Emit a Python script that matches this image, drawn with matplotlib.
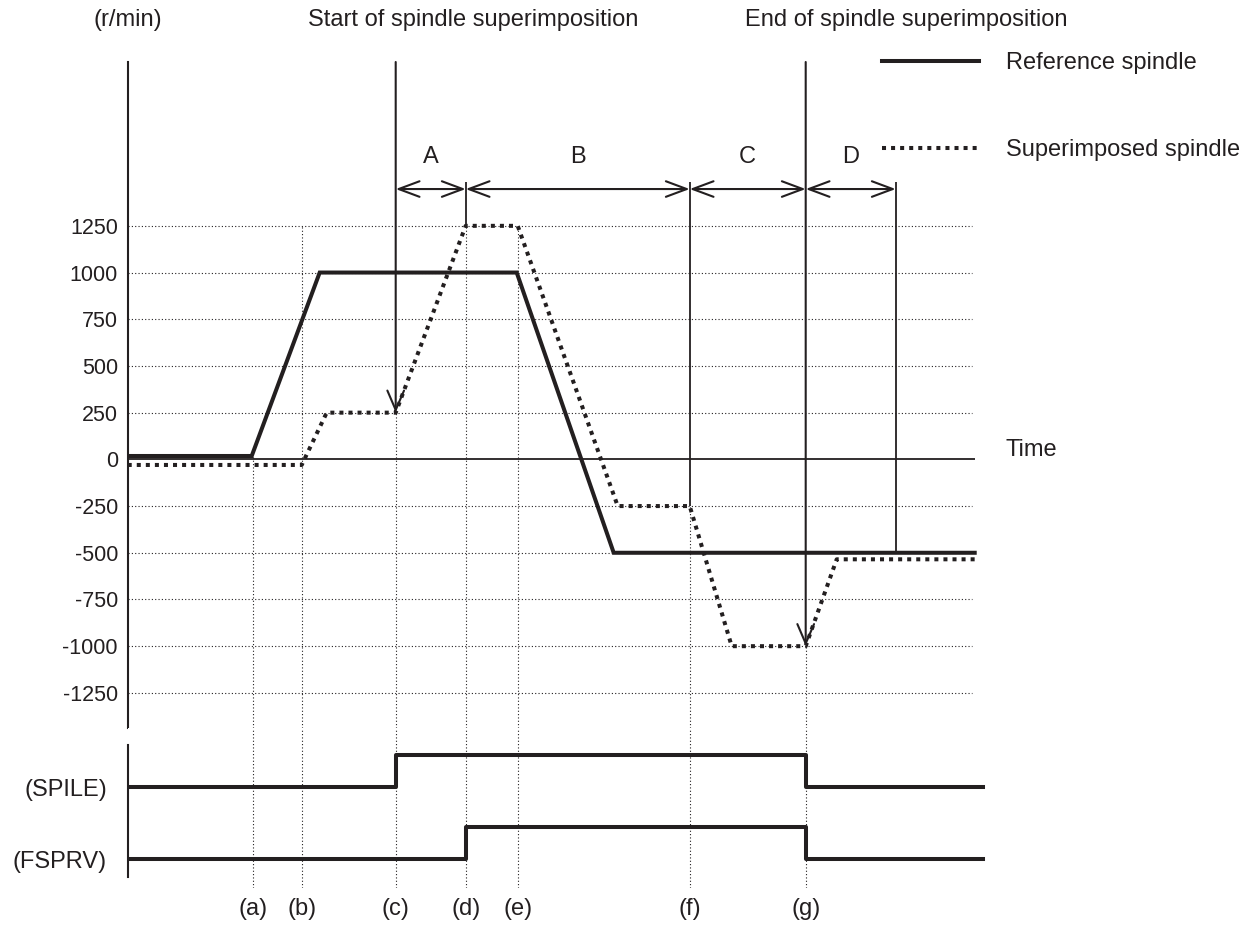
import matplotlib.pyplot as plt
import numpy as np

plt.rcParams['font.family'] = ['Liberation Sans', 'DejaVu Sans']
plt.rcParams['axes.unicode_minus'] = False

INK = '#231f20'
DOTS = (0, (1, 2))

# time marks (a)..(g), arbitrary time units
mark_labels = ['(a)', '(b)', '(c)', '(d)', '(e)', '(f)', '(g)']
mark_t = [12.5, 17.45, 26.8, 33.8, 39.0, 56.2, 67.8]
# speed where each dotted mark line starts (it runs down from there)
mark_dot_top = [18, 1250, 250, 1250, 1250, -250, -1000]
t_d_end = 76.8
t_end = 84.7
t_sig_end = 85.5

# reference spindle speed (r/min)
ref_t = [0, 12.4, 19.2, 38.9, 48.6, 84.7]
ref_v = [18, 18, 1000, 1000, -500, -500]

# superimposed spindle speed (r/min)
sup_t = [0, 17.4, 19.9, 26.8, 33.8, 39.0, 49.0, 56.2, 60.4, 67.8, 70.9, 84.7]
sup_v = [-30, -30, 250, 250, 1250, 1250, -250, -250, -1000, -1000, -535, -535]

speed_ticks = [1250, 1000, 750, 500, 250, 0, -250, -500, -750, -1000, -1250]

# signals (0 = off, 1 = on)
sig_t = [0, 26.8, 33.8, 67.8, 85.5]
spile = [0, 1, 1, 0, 0]
fsprv = [0, 0, 1, 0, 0]

# sections A-D
sec_labels = ['A', 'B', 'C', 'D']
sec_edges = [26.8, 33.8, 56.2, 67.8, 76.8]

W, H = 1250, 925
fig = plt.figure(figsize=(W / 100, H / 100), dpi=100)

# ---------------- speed chart ----------------
v_top, v_bot = 2127, -1438
ax = fig.add_axes([127.7 / W, 1 - 728 / H, 870 / W, 666 / H])
ax.set_xlim(0, 87)
ax.set_ylim(v_bot, v_top)
for s in ['top', 'right', 'bottom']:
    ax.spines[s].set_visible(False)
ax.spines['left'].set_linewidth(1.5)
ax.spines['left'].set_color(INK)
ax.set_xticks([])
ax.set_yticks(speed_ticks)
ax.tick_params(axis='y', length=0, pad=7, labelsize=15.5, colors=INK)

grid_v = [v for v in speed_ticks if v != 0]
ax.hlines(grid_v, 0, 84.4, colors=INK, linestyles=DOTS, lw=0.8)
ax.hlines(0, 0, t_end, colors=INK, lw=1.3)
ax.text(87.8, 50, 'Time', va='center', fontsize=17, color=INK)

# dotted time marks
ax.vlines(mark_t, v_bot, mark_dot_top, colors=INK, linestyles=DOTS, lw=0.8)

l_ref, = ax.plot(ref_t, ref_v, color=INK, lw=2.9, solid_joinstyle='miter',
                 label='Reference spindle')
l_sup, = ax.plot(sup_t, sup_v, color=INK, lw=2.9, ls=(0, (1, 1.25)),
                 label='Superimposed spindle')

# start / end of superimposition arrows
arr_down = dict(arrowstyle='->,head_length=0.7,head_width=0.3', lw=1.5, color=INK,
                shrinkA=0, shrinkB=0, mutation_scale=20)
ax.annotate('', xy=(mark_t[2], 250), xytext=(mark_t[2], v_top), arrowprops=arr_down)
ax.annotate('', xy=(mark_t[6], -1000), xytext=(mark_t[6], v_top), arrowprops=arr_down)

# section boundaries
y_arrow = 1447
y_bound = 1485
ax.vlines([mark_t[3], mark_t[5], t_d_end], y_bound, [1250, -250, -500], colors=INK, lw=1.3)

arr_both = dict(arrowstyle='<->,head_length=0.75,head_width=0.28', lw=1.5, color=INK,
                shrinkA=0, shrinkB=0, mutation_scale=20)
for i, lab in enumerate(sec_labels):
    t0, t1 = sec_edges[i], sec_edges[i + 1]
    ax.annotate('', xy=(t1, y_arrow), xytext=(t0, y_arrow), arrowprops=arr_both)
    ax.text((t0 + t1) / 2, 1619, lab, ha='center', va='center', fontsize=17, color=INK)

# ---------------- signals ----------------
axs = fig.add_axes([127.7 / W, 1 - 888 / H, 870 / W, 160 / H])
axs.set_xlim(0, 87)
axs.set_ylim(0, 1)
for s in ['top', 'right', 'bottom']:
    axs.spines[s].set_visible(False)
axs.spines['left'].set_linewidth(1.5)
axs.spines['left'].set_color(INK)
axs.spines['left'].set_bounds(0.069, 0.894)

spile_base, fsprv_base, step_h = 0.631, 0.181, 0.2
axs.set_yticks([spile_base, fsprv_base])
axs.set_yticklabels(['(SPILE)', '(FSPRV)'])
axs.set_xticks(mark_t)
axs.set_xticklabels(mark_labels)
axs.tick_params(axis='y', length=0, pad=15, labelsize=17, colors=INK)
axs.tick_params(axis='x', length=0, pad=7, labelsize=17, colors=INK)

axs.vlines(mark_t, 0, 1, colors=INK, linestyles=DOTS, lw=0.8)
axs.step(sig_t, spile_base + step_h * np.array(spile), where='post', color=INK, lw=2.9)
axs.step(sig_t, fsprv_base + step_h * np.array(fsprv), where='post', color=INK, lw=2.9)

# ---------------- headings / legend ----------------
fig.text(128 / W, 1 - 20 / H, '(r/min)', ha='center', va='center', fontsize=17, color=INK)
fig.text(473 / W, 1 - 20 / H, 'Start of spindle superimposition', ha='center', va='center',
         fontsize=17, color=INK)
fig.text(906 / W, 1 - 20 / H, 'End of spindle superimposition', ha='center', va='center',
         fontsize=17, color=INK)

fig.legend(handles=[l_ref, l_sup], loc='upper left', bbox_to_anchor=(882 / W, 1 - 52 / H),
           frameon=False, fontsize=17, handlelength=4.1, handletextpad=1.15,
           labelspacing=2.75, borderpad=0, borderaxespad=0, labelcolor=INK)

fig.savefig('out.png', dpi=100)
